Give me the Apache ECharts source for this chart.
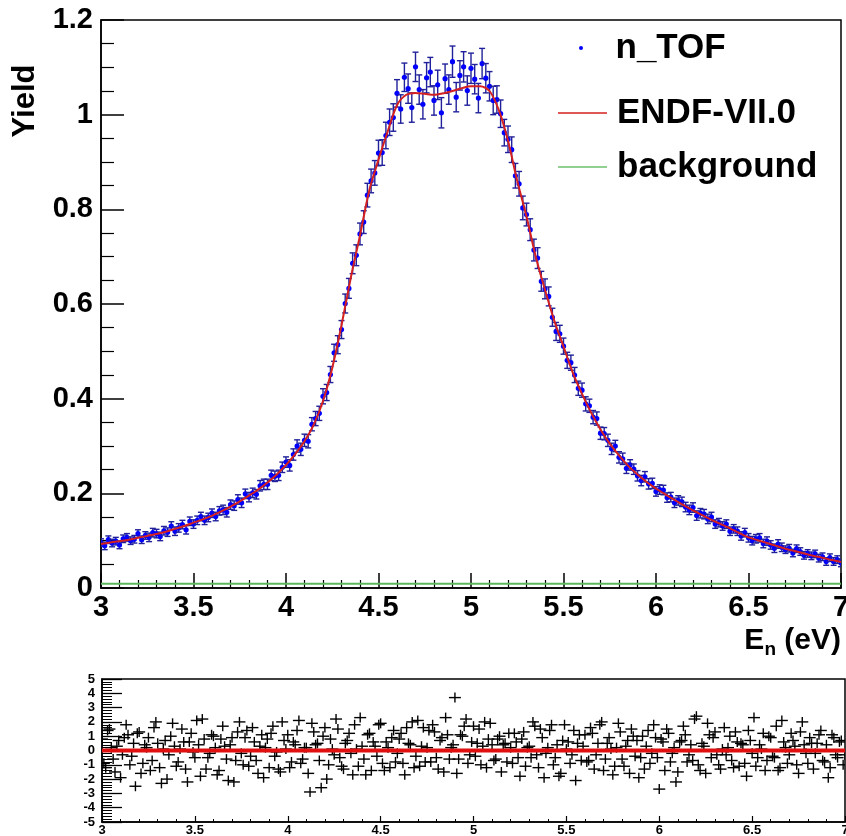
<!DOCTYPE html>
<html><head><meta charset="utf-8">
<script src="https://cdn.jsdelivr.net/npm/echarts@6/dist/echarts.min.js"></script>
<style>html,body{margin:0;padding:0;background:#fff}#c{width:846px;height:836px}</style>
</head><body><div id="c"></div>
<script>
// ---- data ----
const energy = [
3,3.02,3.04,3.06,3.08,3.1,3.12,3.14,3.16,3.18,
3.2,3.22,3.24,3.26,3.28,3.3,3.32,3.34,3.36,3.38,
3.4,3.42,3.44,3.46,3.48,3.5,3.52,3.54,3.56,3.58,
3.6,3.62,3.64,3.66,3.68,3.7,3.72,3.74,3.76,3.78,
3.8,3.82,3.84,3.86,3.88,3.9,3.92,3.94,3.96,3.98,
4,4.02,4.04,4.06,4.08,4.1,4.12,4.14,4.16,4.18,
4.2,4.22,4.24,4.26,4.28,4.3,4.32,4.34,4.36,4.38,
4.4,4.42,4.44,4.46,4.48,4.5,4.52,4.54,4.56,4.58,
4.6,4.62,4.64,4.66,4.68,4.7,4.72,4.74,4.76,4.78,
4.8,4.82,4.84,4.86,4.88,4.9,4.92,4.94,4.96,4.98,
5,5.02,5.04,5.06,5.08,5.1,5.12,5.14,5.16,5.18,
5.2,5.22,5.24,5.26,5.28,5.3,5.32,5.34,5.36,5.38,
5.4,5.42,5.44,5.46,5.48,5.5,5.52,5.54,5.56,5.58,
5.6,5.62,5.64,5.66,5.68,5.7,5.72,5.74,5.76,5.78,
5.8,5.82,5.84,5.86,5.88,5.9,5.92,5.94,5.96,5.98,
6,6.02,6.04,6.06,6.08,6.1,6.12,6.14,6.16,6.18,
6.2,6.22,6.24,6.26,6.28,6.3,6.32,6.34,6.36,6.38,
6.4,6.42,6.44,6.46,6.48,6.5,6.52,6.54,6.56,6.58,
6.6,6.62,6.64,6.66,6.68,6.7,6.72,6.74,6.76,6.78,
6.8,6.82,6.84,6.86,6.88,6.9,6.92,6.94,6.96,6.98,
7];
const yieldData = [
0.096,0.089,0.102,0.095,0.099,0.091,0.104,0.107,0.100,0.103,
0.115,0.102,0.111,0.107,0.117,0.115,0.109,0.121,0.118,0.131,
0.120,0.127,0.134,0.123,0.141,0.135,0.143,0.151,0.143,0.149,
0.158,0.151,0.163,0.165,0.160,0.176,0.174,0.187,0.180,0.199,
0.192,0.201,0.198,0.216,0.219,0.219,0.238,0.236,0.238,0.255,
0.266,0.259,0.282,0.300,0.293,0.312,0.310,0.346,0.358,0.369,
0.405,0.413,0.451,0.497,0.514,0.546,0.601,0.633,0.686,0.703,
0.748,0.773,0.830,0.860,0.877,0.919,0.920,0.956,0.984,0.994,
1.045,1.012,1.079,1.055,1.015,1.101,1.053,1.022,1.078,1.090,
1.030,1.063,1.004,1.076,1.053,1.112,1.037,1.083,1.101,1.051,
1.098,1.075,1.035,1.108,1.077,1.060,1.030,1.032,1.002,0.962,
0.948,0.926,0.871,0.854,0.803,0.789,0.757,0.714,0.697,0.648,
0.632,0.616,0.572,0.542,0.537,0.511,0.481,0.476,0.450,0.422,
0.418,0.389,0.385,0.361,0.358,0.327,0.326,0.312,0.294,0.300,
0.276,0.273,0.253,0.260,0.251,0.237,0.227,0.235,0.220,0.221,
0.204,0.208,0.207,0.191,0.192,0.180,0.185,0.182,0.171,0.165,
0.170,0.153,0.158,0.156,0.146,0.150,0.135,0.138,0.131,0.135,
0.120,0.125,0.120,0.110,0.117,0.106,0.100,0.104,0.106,0.094,
0.099,0.091,0.084,0.093,0.086,0.081,0.084,0.074,0.083,0.077,
0.069,0.073,0.068,0.072,0.063,0.066,0.056,0.064,0.056,0.060,
0.053];
const yieldErr = [
0.008,0.008,0.008,0.008,0.008,0.008,0.008,0.008,0.008,0.008,
0.008,0.008,0.008,0.009,0.009,0.009,0.009,0.009,0.009,0.009,
0.009,0.009,0.009,0.009,0.009,0.009,0.009,0.009,0.009,0.009,
0.009,0.009,0.009,0.010,0.010,0.010,0.010,0.010,0.010,0.010,
0.010,0.010,0.010,0.011,0.011,0.011,0.011,0.011,0.011,0.011,
0.011,0.012,0.012,0.013,0.013,0.013,0.014,0.014,0.015,0.015,
0.016,0.017,0.017,0.018,0.019,0.019,0.020,0.021,0.022,0.022,
0.023,0.024,0.025,0.025,0.026,0.027,0.027,0.028,0.028,0.029,
0.029,0.030,0.030,0.031,0.031,0.031,0.031,0.031,0.032,0.031,
0.031,0.031,0.032,0.031,0.031,0.033,0.031,0.031,0.032,0.031,
0.032,0.031,0.031,0.032,0.031,0.031,0.030,0.029,0.029,0.028,
0.028,0.027,0.026,0.026,0.025,0.024,0.023,0.023,0.022,0.021,
0.021,0.020,0.019,0.019,0.018,0.017,0.017,0.016,0.016,0.015,
0.015,0.015,0.014,0.014,0.014,0.013,0.013,0.013,0.012,0.012,
0.012,0.012,0.011,0.011,0.011,0.011,0.011,0.011,0.011,0.011,
0.010,0.010,0.010,0.010,0.010,0.010,0.010,0.010,0.010,0.010,
0.010,0.010,0.010,0.010,0.010,0.010,0.009,0.009,0.009,0.009,
0.009,0.009,0.009,0.009,0.009,0.009,0.009,0.009,0.009,0.009,
0.009,0.009,0.009,0.009,0.009,0.008,0.008,0.008,0.008,0.008,
0.008,0.008,0.008,0.008,0.008,0.008,0.008,0.008,0.008,0.008,
0.008];
const modelEnergy = [
3,3.05,3.1,3.15,3.2,3.25,3.3,3.35,3.4,3.45,
3.5,3.55,3.6,3.65,3.7,3.75,3.8,3.85,3.9,3.95,
4,4.05,4.1,4.15,4.2,4.25,4.3,4.35,4.4,4.45,
4.5,4.55,4.6,4.65,4.7,4.75,4.8,4.85,4.9,4.95,
5,5.05,5.1,5.15,5.2,5.25,5.3,5.35,5.4,5.45,
5.5,5.55,5.6,5.65,5.7,5.75,5.8,5.85,5.9,5.95,
6,6.05,6.1,6.15,6.2,6.25,6.3,6.35,6.4,6.45,
6.5,6.55,6.6,6.65,6.7,6.75,6.8,6.85,6.9,6.95,
7];
const modelYield = [
0.093,0.096,0.099,0.102,0.106,0.110,0.114,0.119,0.125,0.131,
0.138,0.145,0.153,0.162,0.172,0.183,0.195,0.208,0.223,0.240,
0.260,0.283,0.310,0.345,0.395,0.465,0.555,0.655,0.745,0.840,
0.905,0.965,1.020,1.042,1.046,1.044,1.042,1.045,1.050,1.056,
1.060,1.060,1.050,1.010,0.945,0.860,0.785,0.700,0.630,0.565,
0.510,0.455,0.410,0.370,0.335,0.305,0.280,0.258,0.240,0.224,
0.210,0.198,0.186,0.175,0.164,0.154,0.144,0.135,0.126,0.116,
0.107,0.101,0.095,0.089,0.083,0.078,0.073,0.068,0.064,0.059,
0.055];
const bgEnergy = [3, 7];
const bgYield = [0.009, 0.009];
const residual = [
0.8,-1.2,1.5,-0.6,0.3,-1.9,0.9,1.1,-0.4,-2.5,
1.3,-0.9,0.2,-1.4,1.6,0.5,-2.3,0.7,-0.3,1.9,
-1.1,0.1,0.6,-2.2,1.2,-0.5,0.4,2.2,-1.3,-0.2,
1.0,-1.7,0.8,0.3,-2.1,0.9,-0.7,2.0,-1.0,1.4,
-0.4,0.6,-1.6,1.1,0.2,-1.2,1.7,-0.1,-1.5,0.7,
1.1,-0.8,0.4,2.1,-0.6,0.2,-2.9,1.3,0.5,-2.6,
1.6,-1.0,0.1,2.2,-0.5,-1.3,0.7,-0.2,1.8,-1.1,
0.3,-1.7,1.2,0.6,-0.4,1.9,-1.4,0.2,0.9,-0.8,
0.8,-0.9,1.6,0.4,-1.2,2.1,0.3,-0.8,1.4,1.8,
-0.5,0.7,-1.5,1.1,0.2,3.7,-0.6,1.0,2.2,-0.3,
1.7,0.5,-1.0,2.0,0.8,0.4,-0.6,1.0,0.4,-0.8,
0.2,1.2,-0.5,0.8,-1.1,0.3,2.0,-0.3,1.5,-1.9,
0.2,1.8,-0.5,-1.8,0.7,0.1,-0.9,1.4,0.5,-0.7,
1.1,-0.7,1.2,-0.3,1.8,-1.4,0.5,0.1,-1.1,1.9,
-0.6,0.3,-1.6,1.0,0.7,-0.5,-1.3,1.4,-0.2,0.9,
-2.7,0.6,1.5,-0.8,0.2,-1.5,0.7,1.1,-0.3,-0.7,
2.4,-1.4,0.3,1.9,-0.5,1.3,-1.0,0.1,-0.3,1.0,
-1.2,0.6,0.5,-0.9,1.4,-0.2,-1.1,0.4,1.2,-0.7,
0.9,-0.5,-1.4,2.1,0.2,-0.3,0.7,-1.0,1.3,0.4,
-0.9,0.5,-0.2,1.1,-0.7,0.4,-1.2,0.9,-0.5,0.7,
-0.3];
const energyMid = [
3.01,3.03,3.05,3.07,3.09,3.11,3.13,3.15,3.17,3.19,
3.21,3.23,3.25,3.27,3.29,3.31,3.33,3.35,3.37,3.39,
3.41,3.43,3.45,3.47,3.49,3.51,3.53,3.55,3.57,3.59,
3.61,3.63,3.65,3.67,3.69,3.71,3.73,3.75,3.77,3.79,
3.81,3.83,3.85,3.87,3.89,3.91,3.93,3.95,3.97,3.99,
4.01,4.03,4.05,4.07,4.09,4.11,4.13,4.15,4.17,4.19,
4.21,4.23,4.25,4.27,4.29,4.31,4.33,4.35,4.37,4.39,
4.41,4.43,4.45,4.47,4.49,4.51,4.53,4.55,4.57,4.59,
4.61,4.63,4.65,4.67,4.69,4.71,4.73,4.75,4.77,4.79,
4.81,4.83,4.85,4.87,4.89,4.91,4.93,4.95,4.97,4.99,
5.01,5.03,5.05,5.07,5.09,5.11,5.13,5.15,5.17,5.19,
5.21,5.23,5.25,5.27,5.29,5.31,5.33,5.35,5.37,5.39,
5.41,5.43,5.45,5.47,5.49,5.51,5.53,5.55,5.57,5.59,
5.61,5.63,5.65,5.67,5.69,5.71,5.73,5.75,5.77,5.79,
5.81,5.83,5.85,5.87,5.89,5.91,5.93,5.95,5.97,5.99,
6.01,6.03,6.05,6.07,6.09,6.11,6.13,6.15,6.17,6.19,
6.21,6.23,6.25,6.27,6.29,6.31,6.33,6.35,6.37,6.39,
6.41,6.43,6.45,6.47,6.49,6.51,6.53,6.55,6.57,6.59,
6.61,6.63,6.65,6.67,6.69,6.71,6.73,6.75,6.77,6.79,
6.81,6.83,6.85,6.87,6.89,6.91,6.93,6.95,6.97,6.99];
const residualMid = [
-0.9,1.4,0.2,-1.5,0.7,-0.3,1.8,-1.0,0.5,1.2,
-1.6,0.4,0.9,-0.7,2.0,-1.2,0.1,-2.0,1.0,0.3,
-0.8,1.5,-1.3,0.6,-0.1,2.1,-1.8,0.8,-0.5,1.1,
0.2,-1.4,1.7,-0.6,0.4,-2.2,1.3,-0.2,0.9,-1.1,
1.6,-0.7,0.3,-1.9,0.8,1.2,-0.4,-1.3,2.0,0.1,
-1.2,0.6,1.4,-0.9,0.2,-1.6,1.9,0.4,-0.7,1.0,
-2.0,0.8,-0.3,1.5,-1.1,0.5,1.2,-1.7,0.1,2.3,
-0.6,1.1,-1.4,0.3,1.8,-0.9,0.6,-1.2,1.4,-0.2,
1.2,-1.7,0.5,2.0,-0.4,-1.1,1.6,0.2,-0.8,1.3,
-1.3,0.9,2.3,-0.6,0.4,-1.6,1.1,1.7,-0.9,0.6,
-0.4,1.5,0.3,-1.2,1.9,-0.7,0.8,-1.5,0.5,1.2,
-0.9,0.6,-1.8,1.3,0.2,-0.5,1.7,-1.2,0.9,-0.2,
1.4,-1.0,0.4,-1.6,1.8,0.6,-0.3,-2.1,1.1,0.3,
-0.8,1.6,-1.3,0.5,2.0,-0.6,0.9,-1.7,0.2,1.3,
-1.1,0.7,1.5,-0.4,-1.9,1.0,0.3,-0.9,1.8,-0.5,
0.8,-1.4,1.2,-0.2,-2.2,0.6,1.7,-0.8,0.4,2.2,
-1.0,0.5,-1.6,1.1,0.9,-0.3,-1.3,1.6,0.2,-0.7,
1.3,-1.1,0.4,-1.8,0.7,2.3,-0.5,0.1,-1.4,1.0,
-0.4,1.7,-1.2,0.6,-0.9,1.2,0.3,-1.6,2.0,-0.2,
0.9,-1.3,0.5,1.4,-0.8,-1.9,1.1,-0.3,0.6,-1.0];
const zeroEnergy = [3, 7];
const zeroValue = [0, 0];

// ---- build ----
const FONT = 'Liberation Sans';
const errData = energy.map((e, i) => [e, yieldData[i], yieldErr[i]]);
const modelData = modelEnergy.map((e, i) => [e, modelYield[i]]);
const bgData = bgEnergy.map((e, i) => [e, bgYield[i]]);
const resData = energy.map((e, i) => [e, residual[i]])
  .concat(energyMid.map((e, i) => [e, residualMid[i]]));
const zeroData = zeroEnergy.map((e, i) => [e, zeroValue[i]]);

function renderErr(params, api) {
  const x = api.value(0), y = api.value(1), e = api.value(2);
  const p = api.coord([x, y]), lo = api.coord([x, y - e]), hi = api.coord([x, y + e]);
  const cw = 3;
  const ls = {stroke: '#20209a', lineWidth: 1.4};
  return {type: 'group', children: [
    {type: 'line', shape: {x1: p[0], y1: lo[1], x2: p[0], y2: hi[1]}, style: ls},
    {type: 'line', shape: {x1: p[0] - cw, y1: lo[1], x2: p[0] + cw, y2: lo[1]}, style: ls},
    {type: 'line', shape: {x1: p[0] - cw, y1: hi[1], x2: p[0] + cw, y2: hi[1]}, style: ls},
    {type: 'circle', shape: {cx: p[0], cy: p[1], r: 2.6}, style: {fill: '#0000ff'}}
  ]};
}
function renderCross(params, api) {
  const p = api.coord([api.value(0), api.value(1)]);
  const s = {stroke: '#000', lineWidth: 1.4};
  return {type: 'group', children: [
    {type: 'line', shape: {x1: p[0] - 6, y1: p[1], x2: p[0] + 6, y2: p[1]}, style: s},
    {type: 'line', shape: {x1: p[0], y1: p[1] - 5, x2: p[0], y2: p[1] + 5}, style: s}
  ]};
}

const chart = echarts.init(document.getElementById('c'), null, {renderer: 'canvas'});
const bigLabel = {fontFamily: FONT, fontWeight: 'bold', fontSize: 29, color: '#000'};
const smallLabel = {fontFamily: FONT, fontWeight: 'bold', fontSize: 13, color: '#000'};
const legendText = {fontFamily: FONT, fontWeight: 'bold', fontSize: 35, color: '#000', lineHeight: 40, padding: [0, 0, 0, 5]};
const lineIcon = 'path://M0,0H49V1.6H0Z';

chart.setOption({
  animation: false,
  backgroundColor: '#fff',
  grid: [
    {left: 101, top: 20, width: 740, height: 568, show: true, borderColor: '#000', borderWidth: 1.5, outerBoundsMode: 'none'},
    {left: 102, top: 679, width: 743, height: 143, show: true, borderColor: '#000', borderWidth: 1.5, outerBoundsMode: 'none'}
  ],
  xAxis: [
    {gridIndex: 0, type: 'value', min: 3, max: 7, interval: 0.5,
     axisLine: {show: true, onZero: false, lineStyle: {color: '#000', width: 1.5}},
     axisTick: {show: true, inside: true, length: 15, lineStyle: {color: '#000', width: 1.5}},
     minorTick: {show: true, splitNumber: 5, length: 8, lineStyle: {color: '#000', width: 1.2}},
     splitLine: {show: false},
     axisLabel: Object.assign({margin: 5}, bigLabel)},
    {gridIndex: 1, type: 'value', min: 3, max: 7, interval: 0.5,
     axisLine: {show: true, onZero: false, lineStyle: {color: '#000', width: 1.5}},
     axisTick: {show: true, inside: true, length: 6, lineStyle: {color: '#000', width: 1.2}},
     minorTick: {show: true, splitNumber: 5, length: 3, lineStyle: {color: '#000', width: 1}},
     splitLine: {show: false},
     axisLabel: Object.assign({margin: 2}, smallLabel)}
  ],
  yAxis: [
    {gridIndex: 0, type: 'value', min: 0, max: 1.2, interval: 0.2,
     axisLine: {show: true, onZero: false, lineStyle: {color: '#000', width: 1.5}},
     axisTick: {show: true, inside: true, length: 23, lineStyle: {color: '#000', width: 1.5}},
     minorTick: {show: true, splitNumber: 4, length: 13, lineStyle: {color: '#000', width: 1.2}},
     splitLine: {show: false},
     axisLabel: Object.assign({margin: 8}, bigLabel)},
    {gridIndex: 1, type: 'value', min: -5, max: 5, interval: 1,
     axisLine: {show: true, onZero: false, lineStyle: {color: '#000', width: 1.5}},
     axisTick: {show: true, inside: true, length: 20, lineStyle: {color: '#000', width: 1.3}},
     minorTick: {show: true, splitNumber: 5, length: 10, lineStyle: {color: '#000', width: 1}},
     splitLine: {show: false},
     axisLabel: Object.assign({margin: 7}, smallLabel)}
  ],
  legend: [
    {left: 574, top: 23, itemWidth: 49, itemHeight: 4, selectedMode: false, textStyle: legendText,
     data: [{name: 'n_TOF', icon: 'circle', itemStyle: {color: '#0000ff'}}]},
    {left: 553, top: 88, itemWidth: 49, itemHeight: 4, selectedMode: false, textStyle: legendText,
     data: [{name: 'ENDF-VII.0', icon: lineIcon, itemStyle: {color: '#d42020'}}]},
    {left: 553, top: 142, itemWidth: 49, itemHeight: 4, selectedMode: false, textStyle: legendText,
     data: [{name: 'background', icon: lineIcon, itemStyle: {color: '#6cc06c'}}]}
  ],
  graphic: [
    {type: 'text', x: 25, y: 101, rotation: Math.PI / 2,
     style: {text: 'Yield', align: 'center', verticalAlign: 'middle', fontFamily: FONT, fontWeight: 'bold', fontSize: 31, fill: '#000'}},
    {type: 'text', x: 841, y: 641,
     style: {text: '{a|E}{b|n}{a| (eV)}', align: 'right', verticalAlign: 'middle',
       rich: {
         a: {fontFamily: FONT, fontWeight: 'bold', fontSize: 30, fill: '#000'},
         b: {fontFamily: FONT, fontWeight: 'bold', fontSize: 19, fill: '#000', padding: [17, 0, 0, 0]}
       }}}
  ],
  series: [
    {name: 'background', type: 'line', xAxisIndex: 0, yAxisIndex: 0, data: bgData,
     symbol: 'none', lineStyle: {color: '#5cb85c', width: 2}, itemStyle: {color: '#5cb85c'}, z: 2},
    {name: 'n_TOF', type: 'custom', xAxisIndex: 0, yAxisIndex: 0, data: errData,
     renderItem: renderErr, encode: {x: 0, y: 1}, itemStyle: {color: '#0000ff'}, clip: true, z: 3},
    {name: 'ENDF-VII.0', type: 'line', xAxisIndex: 0, yAxisIndex: 0, data: modelData,
     symbol: 'none', smooth: 0.3, lineStyle: {color: '#d42020', width: 2}, itemStyle: {color: '#d42020'}, z: 4},
    {name: 'residual', type: 'custom', xAxisIndex: 1, yAxisIndex: 1, data: resData,
     renderItem: renderCross, encode: {x: 0, y: 1}, clip: true, z: 3},
    {name: 'zero', type: 'line', xAxisIndex: 1, yAxisIndex: 1, data: zeroData,
     symbol: 'none', lineStyle: {color: '#e01010', width: 4}, z: 5}
  ]
});
</script>
</body></html>
